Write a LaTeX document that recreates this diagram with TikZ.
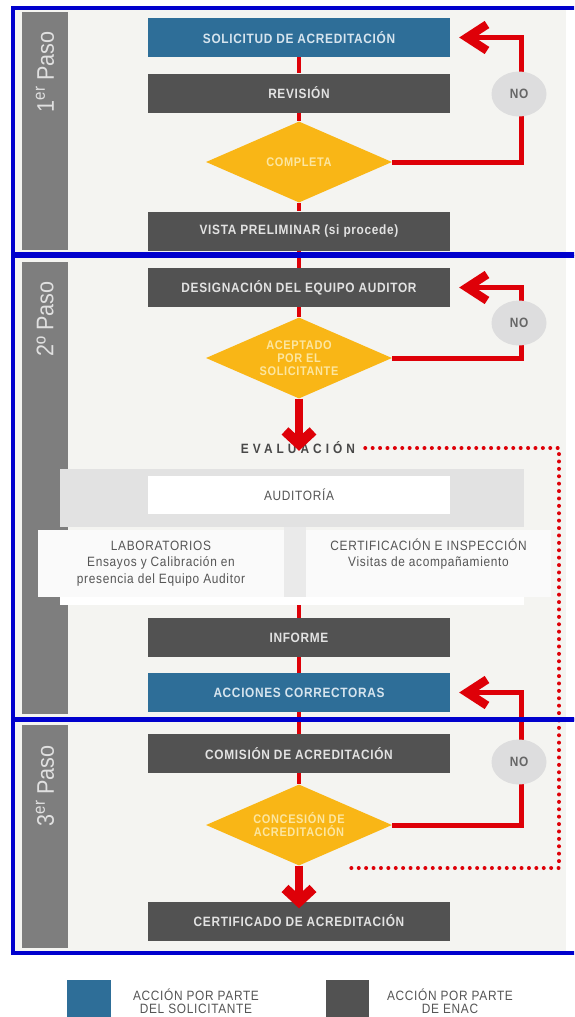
\documentclass[tikz,border=0pt]{standalone}
\usepackage{fontspec}
\setmainfont{Liberation Sans}
\newfontfamily\bxfont[FakeStretch=0.88,LetterSpace=5]{Liberation Sans}
\newfontfamily\evfont[FakeStretch=0.88,LetterSpace=30]{Liberation Sans}
\newfontfamily\pasofont[FakeStretch=0.9]{Liberation Sans}
\usetikzlibrary{shapes.geometric,arrows.meta}
\definecolor{bluebox}{RGB}{46,110,152}
\definecolor{dkgrey}{RGB}{82,82,82}
\definecolor{amber}{RGB}{249,182,22}
\definecolor{redl}{RGB}{222,0,8}
\definecolor{nogrey}{RGB}{221,221,222}
\definecolor{barg}{RGB}{126,126,126}
\definecolor{bgc}{RGB}{244,244,241}
\definecolor{bandg}{RGB}{226,226,226}
\definecolor{gapg}{RGB}{234,234,234}
\definecolor{framebl}{RGB}{0,0,205}
\definecolor{txtg}{RGB}{85,85,85}
\definecolor{boxtxt}{RGB}{226,226,226}
\definecolor{bluetxt}{RGB}{214,228,238}
\definecolor{diatxt}{RGB}{252,230,160}
\tikzset{
  box/.style={rectangle, minimum width=302pt, minimum height=39pt, inner sep=0pt,
    font=\bxfont\bfseries\fontsize{13.5}{15}\selectfont},
  darkbox/.style={box, fill=dkgrey, text=boxtxt},
  bluebx/.style={box, fill=bluebox, text=bluetxt},
  dec/.style={diamond, aspect=2.3, fill=amber, minimum width=186pt, minimum height=81pt,
    inner sep=0pt, text=diatxt, align=center,
    font=\bxfont\bfseries\fontsize{12.5}{13}\selectfont},
  noc/.style={ellipse, fill=nogrey, minimum width=55pt, minimum height=45pt, inner sep=0pt,
    text=txtg!90, font=\bxfont\bfseries\fontsize{13.5}{15}\selectfont},
  paso/.style={rotate=90, inner sep=0pt, text=white!88!black,
    font=\pasofont\fontsize{24}{26}\selectfont},
  conn/.style={draw=redl, line width=4pt},
  loopline/.style={draw=redl, line width=5pt, line join=miter, shorten >=9pt,
    -{Straight Barb[length=20pt,width=26pt,line width=8.5pt]}},
  bigarrow/.style={draw=redl, line width=8pt,
    -{Straight Barb[length=13pt,width=28pt,line width=10pt]}},
  dotline/.style={draw=redl, line width=4pt, line cap=round, dash pattern=on 0pt off 7.4pt},
  evbox/.style={rectangle, fill=white!98!black, inner sep=0pt, align=center, text=txtg,
    font=\bxfont\fontsize{13.5}{16.5}\selectfont},
  legtxt/.style={align=center, inner sep=0pt, text=txtg,
    font=\bxfont\fontsize{13.5}{13}\selectfont},
  frame/.style={draw=framebl, line width=3.2pt}
}
\begin{document}
\begin{tikzpicture}[x=1pt,y=-1pt]
\useasboundingbox (0,0) rectangle (574,1017);
\clip (0,0) rectangle (574,1017);
\fill[white] (0,0) rectangle (574,1017);
\fill[bgc] (13,8) rectangle (566,953);
% side bars
\fill[barg] (22,12) rectangle (68,250);
\fill[barg] (22,262) rectangle (68,714);
\fill[barg] (22,725) rectangle (68,948);
\node[paso, anchor=east] (p1) at (45,31) {1\textsuperscript{er} Paso};
\node[paso, anchor=east] (p2) at (45,281) {2º Paso};
\node[paso, anchor=east] (p3) at (45,745) {3\textsuperscript{er} Paso};
% audit area
\fill[bandg] (60,469) rectangle (524,527);
\fill[gapg] (284,527) rectangle (306,597);
\node[evbox, fill=white, minimum width=302pt, minimum height=38pt] (aud) at (299,495) {AUDITORÍA};
\node[evbox, minimum width=246pt, minimum height=67pt] (lab) at (161,563.5)
  {LABORATORIOS\\Ensayos y Calibración en\\presencia del Equipo Auditor};
\node[evbox, minimum width=245pt, minimum height=67pt] (cert) at (428.5,563.5)
  {CERTIFICACIÓN E INSPECCIÓN\\Visitas de acompañamiento\\\strut};
\node[rectangle, fill=white, minimum width=464pt, minimum height=8pt, inner sep=0pt] (strip) at (292,601) {};
% main nodes
\node[bluebx] (sol) at (299,37.5) {SOLICITUD DE ACREDITACIÓN};
\node[darkbox] (rev) at (299,93) {REVISIÓN};
\node[dec] (comp) at (299,162) {COMPLETA};
\node[darkbox] (vista) at (299,231) {VISTA PRELIMINAR (si procede)};
\node[darkbox] (des) at (299,287.5) {DESIGNACIÓN DEL EQUIPO AUDITOR};
\node[dec] (acep) at (299,358) {ACEPTADO\\POR EL\\SOLICITANTE};
\node[inner sep=0pt, text=txtg!85!black, font=\evfont\bfseries\fontsize{13.5}{15}\selectfont] (eval) at (298,448) {EVALUACIÓN};
\node[darkbox] (inf) at (299,637.5) {INFORME};
\node[bluebx] (acc) at (299,692.5) {ACCIONES CORRECTORAS};
\node[darkbox] (com) at (299,753.5) {COMISIÓN DE ACREDITACIÓN};
\node[dec] (conc) at (299,825) {CONCESIÓN DE\\ACREDITACIÓN};
\node[darkbox] (certif) at (299,921) {CERTIFICADO DE ACREDITACIÓN};
% connectors
\draw[conn] (sol.south) -- (rev.north);
\draw[conn] (rev.south) -- (comp.north);
\draw[conn] (comp.south) -- (vista.north);
\draw[conn] (vista.south) -- (des.north);
\draw[conn] (des.south) -- (acep.north);
\draw[bigarrow] (acep.south) -- ([yshift=-9pt]acep.south |- eval.north);
\draw[conn] (inf.north |- strip.south) -- (inf.north);
\draw[conn] (inf.south) -- (acc.north);
\draw[conn] (acc.south) -- (com.north);
\draw[conn] (com.south) -- (conc.north);
\draw[bigarrow] (conc.south) -- ([yshift=-7pt]certif.north);
% NO loops
\coordinate (k1) at (521,94);
\coordinate (k2) at (521,323);
\coordinate (k3) at (521,762);
\draw[loopline] (comp.east) -| (k1) |- (sol.east);
\draw[loopline] (acep.east) -| (k2) |- (des.east);
\draw[loopline] (conc.east) -| (k3) |- (acc.east);
\node[noc] (no1) at (519,94) {NO};
\node[noc] (no2) at (519,323) {NO};
\node[noc] (no3) at (519,762) {NO};
% dotted evaluation loop
\coordinate (d1) at (559,448);
\coordinate (d2) at (559,868);
\coordinate (d3) at (346,868);
\draw[dotline] ([xshift=10pt]eval.east) -- (d1) -- (d2) -- (d3);
% frames
\draw[frame] (13,8) rectangle (600,254);
\draw[frame] (13,256.5) rectangle (600,719);
\draw[frame] (13,720) rectangle (600,953);
% legend
\node[rectangle, fill=bluebox, minimum width=44pt, minimum height=42pt, inner sep=0pt] (lgb) at (89,1001) {};
\node[legtxt] (lgbt) at (196,1001.5) {ACCIÓN POR PARTE\\DEL SOLICITANTE};
\node[rectangle, fill=dkgrey, minimum width=43pt, minimum height=42pt, inner sep=0pt] (lgd) at (347.5,1001) {};
\node[legtxt] (lgdt) at (450,1001.5) {ACCIÓN POR PARTE\\DE ENAC};
\end{tikzpicture}
\end{document}
